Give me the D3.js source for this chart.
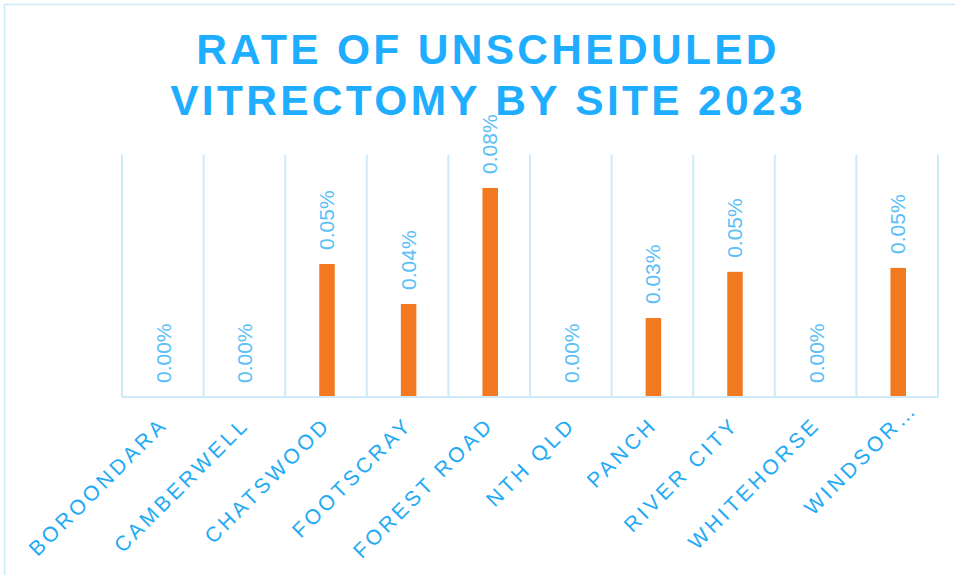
<!DOCTYPE html>
<html>
<head>
<meta charset="utf-8">
<script src="https://cdn.jsdelivr.net/npm/d3@7"></script>
<style>
  body { margin: 0; background: #fff; }
  svg { display: block; font-family: "Liberation Sans", Arial, sans-serif; }
</style>
</head>
<body>
<div id="chart"></div>
<script>
// chart data
const sites = ['BOROONDARA', 'CAMBERWELL', 'CHATSWOOD', 'FOOTSCRAY', 'FOREST ROAD',
  'NTH QLD', 'PANCH', 'RIVER CITY', 'WHITEHORSE', 'WINDSOR\u2026'];
const rates = [0, 0, 0.0509, 0.0356, 0.08, 0, 0.0302, 0.0479, 0, 0.0494];
const titleLines = ['RATE OF UNSCHEDULED', 'VITRECTOMY BY SITE 2023'];

const width = 955, height = 575;
const margin = { top: 155, right: 17, bottom: 178, left: 122 };

const svg = d3.select('#chart').append('svg')
  .attr('width', width)
  .attr('height', height);

// outer frame (only top and left edges visible)
svg.append('rect')
  .attr('x', 4.5).attr('y', 4.5)
  .attr('width', 960).attr('height', 600)
  .style('fill', 'none')
  .style('stroke', '#cdeafb')
  .style('stroke-width', 1.5);

// title
const title = svg.append('text')
  .attr('text-anchor', 'middle')
  .style('font-size', '42.5px')
  .style('font-weight', 'bold')
  .style('letter-spacing', '3.3px')
  .style('fill', '#1eadff');
titleLines.forEach((t, i) => {
  title.append('tspan')
    .attr('x', 488)
    .attr('y', 64 + i * 51)
    .text(t);
});

const x = d3.scaleBand()
  .domain(sites)
  .range([margin.left, width - margin.right])
  .paddingInner(0)
  .paddingOuter(0);

const y = d3.scaleLinear()
  .domain([0, 0.0926])
  .range([height - margin.bottom, margin.top]);

const base = y(0);

// vertical category separators
const edges = sites.map(s => x(s)).concat([x.range()[1]]);
svg.selectAll('line.sep')
  .data(edges)
  .enter().append('line')
  .attr('class', 'sep')
  .attr('x1', d => d).attr('x2', d => d)
  .attr('y1', margin.top).attr('y2', base)
  .style('stroke', '#cdeafb')
  .style('stroke-width', 2);

// bars
const barW = x.bandwidth() * 0.19;
svg.selectAll('rect.bar')
  .data(sites)
  .enter().append('rect')
  .attr('class', 'bar')
  .attr('x', d => x(d) + x.bandwidth() / 2 - barW / 2 + 1)
  .attr('y', (d, i) => y(rates[i]))
  .attr('width', barW)
  .attr('height', (d, i) => base - y(rates[i]))
  .style('fill', '#f27920');

// baseline axis
svg.append('line')
  .attr('x1', x.range()[0]).attr('x2', x.range()[1])
  .attr('y1', base).attr('y2', base)
  .style('stroke', '#cdeafb')
  .style('stroke-width', 2);

// value labels (rotated)
svg.selectAll('text.val')
  .data(sites)
  .enter().append('text')
  .attr('class', 'val')
  .attr('transform', (d, i) => {
    const cx = x(d) + x.bandwidth() / 2 + 8;
    const cy = y(rates[i]) - 14;
    return `translate(${cx},${cy}) rotate(-90)`;
  })
  .attr('text-anchor', 'start')
  .style('font-size', '21px')
  .style('fill', '#5cc0f7')
  .text((d, i) => d3.format('.2f')(rates[i]) + '%');

// category labels (truncated ones spill past the tick, like Excel)
svg.selectAll('text.cat')
  .data(sites)
  .enter().append('text')
  .attr('class', 'cat')
  .attr('transform', d => {
    const cx = x(d) + x.bandwidth() / 2 + 6;
    return `translate(${cx},${base + 29}) rotate(-45)`;
  })
  .attr('dx', d => d.endsWith('\u2026') ? 22 : 0)
  .attr('text-anchor', 'end')
  .style('font-size', '21px')
  .style('letter-spacing', '3.4px')
  .style('fill', '#22aaf5')
  .text(d => d);
</script>
</body>
</html>
